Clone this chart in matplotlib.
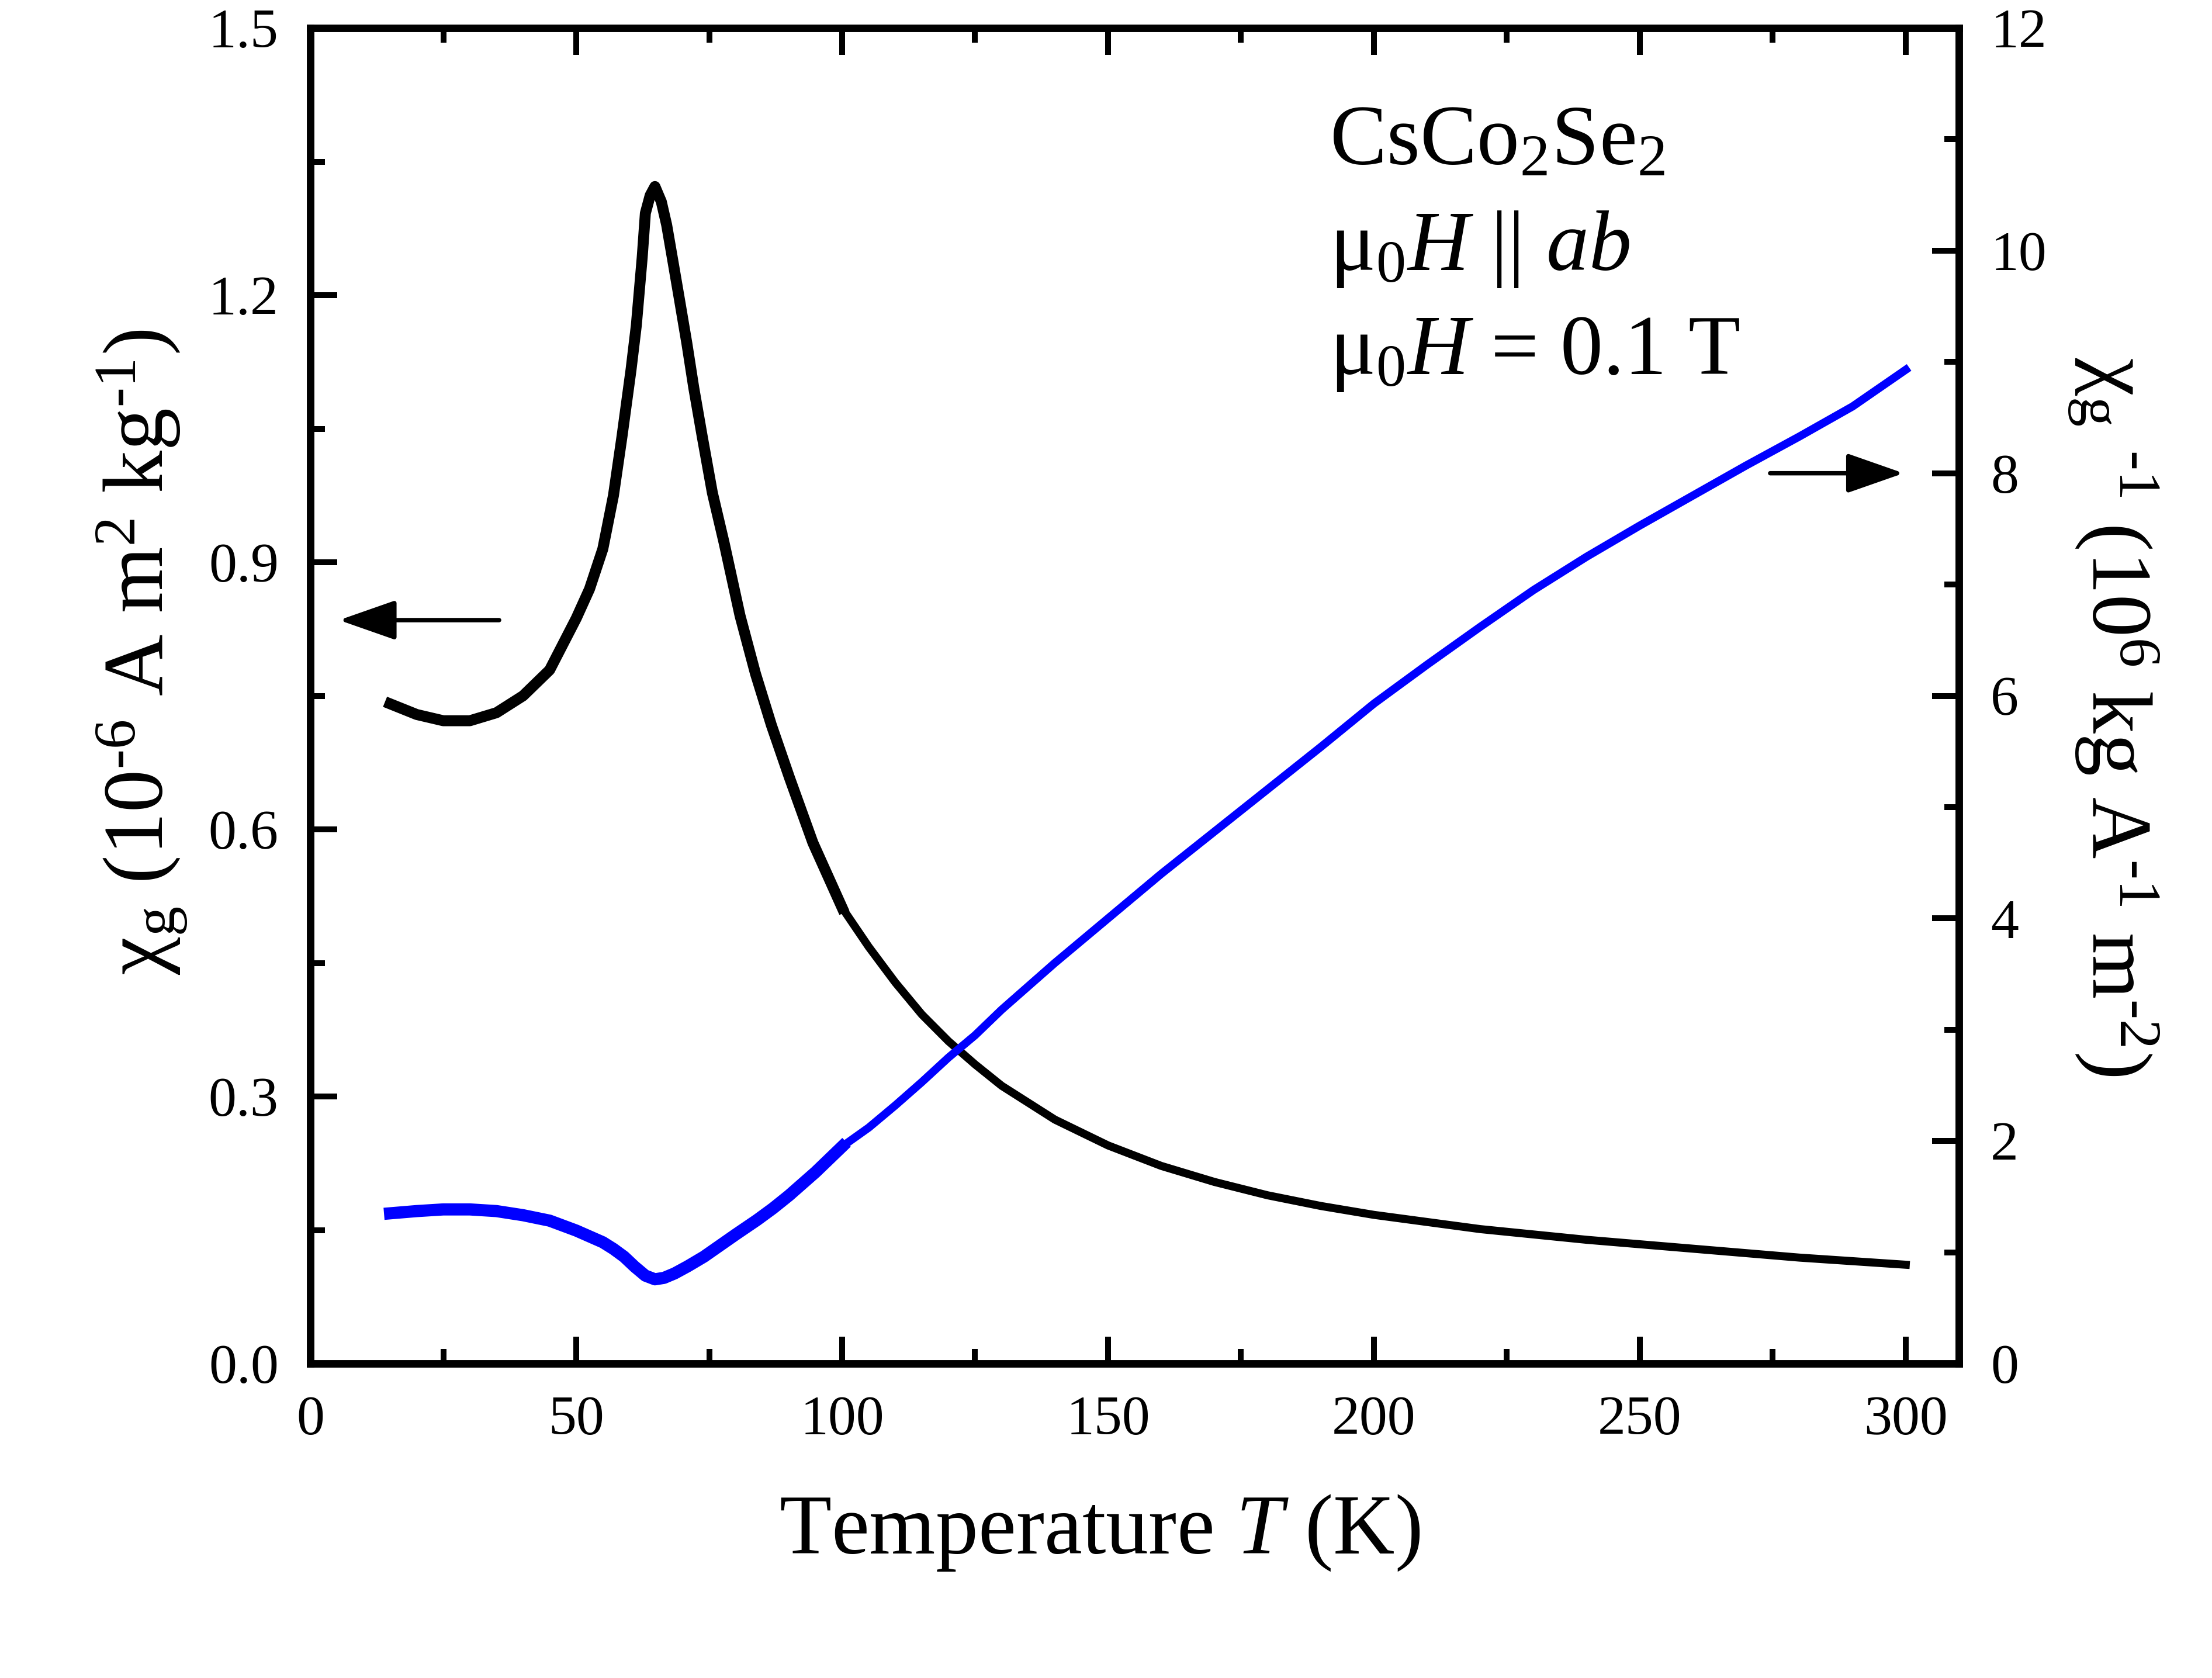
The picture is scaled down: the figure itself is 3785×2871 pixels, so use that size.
import numpy as np
import matplotlib
matplotlib.use("Agg")
import matplotlib.pyplot as plt
from matplotlib.ticker import MultipleLocator

plt.rcParams['font.family'] = ['Liberation Serif', 'DejaVu Serif']
plt.rcParams['mathtext.fontset'] = 'custom'
plt.rcParams['mathtext.rm'] = 'Liberation Serif'
plt.rcParams['mathtext.it'] = 'Liberation Serif:italic'

# chi_g (10^-6 A m^2 kg^-1), left axis
tChi = [15, 20, 25, 30, 35, 40, 45, 50, 52.5, 55, 57, 58.6, 60.3, 61.3, 62.4, 63, 63.9, 64.8,
        66, 67, 68.3, 69.5, 70.8, 72.1, 73.7, 75.6, 77.8, 80.8, 83.7, 86.7, 90.1, 94.5, 100,
        105, 110, 115, 120, 125, 130, 140, 150, 160, 170, 180, 190, 200,
        220, 240, 260, 280, 300]
chi = [0.741, 0.729, 0.722, 0.722, 0.731, 0.750, 0.779, 0.837, 0.870, 0.915, 0.975, 1.041, 1.116, 1.166,
       1.242, 1.292, 1.312, 1.322,
       1.305, 1.279, 1.234, 1.192, 1.146, 1.096, 1.041, 0.978, 0.922, 0.840, 0.775, 0.717, 0.658, 0.585,
       0.512,
       0.468, 0.428, 0.392, 0.362, 0.336, 0.312, 0.274, 0.245, 0.222, 0.204, 0.189, 0.177, 0.167,
       0.151, 0.139, 0.129, 0.119, 0.111]

# 1/chi_g (10^6 kg A^-1 m^-2), right axis
tInv = [15, 20, 25, 30, 35, 40, 45, 50, 55, 57, 59, 61, 63, 64.8, 66.5, 68.5, 71, 74, 77, 80, 84, 87,
        90, 95, 100,
        105, 110, 115, 120, 125, 130, 140, 150, 160, 170, 180, 190, 200,
        210, 220, 230, 240, 250, 260, 270, 280, 290, 300]
chiInv = [1.35, 1.37, 1.385, 1.385, 1.37, 1.333, 1.284, 1.195, 1.09, 1.03, 0.96, 0.87, 0.79, 0.757, 0.77,
          0.81, 0.875, 0.96, 1.06, 1.16, 1.29, 1.395, 1.51, 1.72, 1.95,
          2.12, 2.32, 2.53, 2.75, 2.95, 3.18, 3.60, 4.00, 4.40, 4.78, 5.16, 5.54, 5.93,
          6.28, 6.62, 6.95, 7.25, 7.53, 7.80, 8.07, 8.33, 8.60, 8.93]

tChi = np.array(tChi)
chi = np.array(chi)
tInv = np.array(tInv)
chiInv = np.array(chiInv)

fig = plt.figure(figsize=(3786 / 300, 2871 / 300), dpi=300)
ax = fig.add_axes([531 / 3786, 1 - 2333 / 2871, (3352 - 531) / 3786, (2333 - 48) / 2871])
ax2 = ax.twinx()

lo = tChi <= 100
hi = tChi >= 100
ax.plot(tChi[lo], chi[lo], color='black', lw=4.5, solid_joinstyle='round')
ax.plot(tChi[hi], chi[hi], color='black', lw=3.3, solid_joinstyle='round')

lo = tInv <= 100
hi = tInv >= 100
ax2.plot(tInv[lo], chiInv[lo], color='#0000ff', lw=5.0, solid_joinstyle='round')
ax2.plot(tInv[hi], chiInv[hi], color='#0000ff', lw=3.3, solid_joinstyle='round')

ax.set_xlim(0, 310)
ax.set_ylim(0, 1.5)
ax2.set_ylim(0, 12)

ax.xaxis.set_major_locator(MultipleLocator(50))
ax.xaxis.set_minor_locator(MultipleLocator(25))
ax.yaxis.set_major_locator(MultipleLocator(0.3))
ax.yaxis.set_minor_locator(MultipleLocator(0.15))
ax2.yaxis.set_major_locator(MultipleLocator(2))
ax2.yaxis.set_minor_locator(MultipleLocator(1))
ax.yaxis.set_major_formatter(plt.FormatStrFormatter('%.1f'))

for a in (ax, ax2):
    for s in a.spines.values():
        s.set_linewidth(3)
ax.tick_params(which='both', direction='in', top=True, right=False, width=2.4,
               labelsize=23, pad=13)
ax.tick_params(which='major', length=11)
ax.tick_params(which='minor', length=6)
ax2.tick_params(which='both', direction='in', width=2.4, labelsize=23, pad=13)
ax2.tick_params(which='major', length=11)
ax2.tick_params(which='minor', length=6)

fig.text(0.497, 0.0744, 'Temperature $T$ (K)', fontsize=35, ha='center', va='baseline')
fig.text(243 / 3786, 1 - 1116 / 2871,
         r'χ$_\mathrm{g}$ (10$^{\text{-6}}$ A m$^{2}$ kg$^{\text{-1}}$)',
         fontsize=35, rotation=90, ha='center', va='center')
fig.text(3616 / 3786, 1 - 1226 / 2871,
         r'χ$_\mathrm{g}$ $^{\text{-1}}$ (10$^{6}$ kg A$^{\text{-1}}$ m$^{\text{-2}}$)',
         fontsize=35, rotation=270, ha='center', va='center')

fig.text(0.601, 0.902, 'CsCo$_2$Se$_2$', fontsize=35, va='baseline')
fig.text(0.601, 0.839, 'μ$_0H$ || $ab$', fontsize=35, va='baseline')
fig.text(0.601, 0.777, 'μ$_0H$ = 0.1 T', fontsize=35, va='baseline')

ax.annotate('', xy=(5.4, 0.835), xytext=(35.5, 0.835),
            arrowprops=dict(arrowstyle='-|>,head_length=2.0,head_width=0.7', mutation_scale=10,
                            lw=1.8, color='black', shrinkA=0, shrinkB=0))
ax2.annotate('', xy=(299.6, 8.0), xytext=(274.5, 8.0),
             arrowprops=dict(arrowstyle='-|>,head_length=2.0,head_width=0.7', mutation_scale=10,
                             lw=1.8, color='black', shrinkA=0, shrinkB=0))

fig.savefig('out.png', dpi=300)
